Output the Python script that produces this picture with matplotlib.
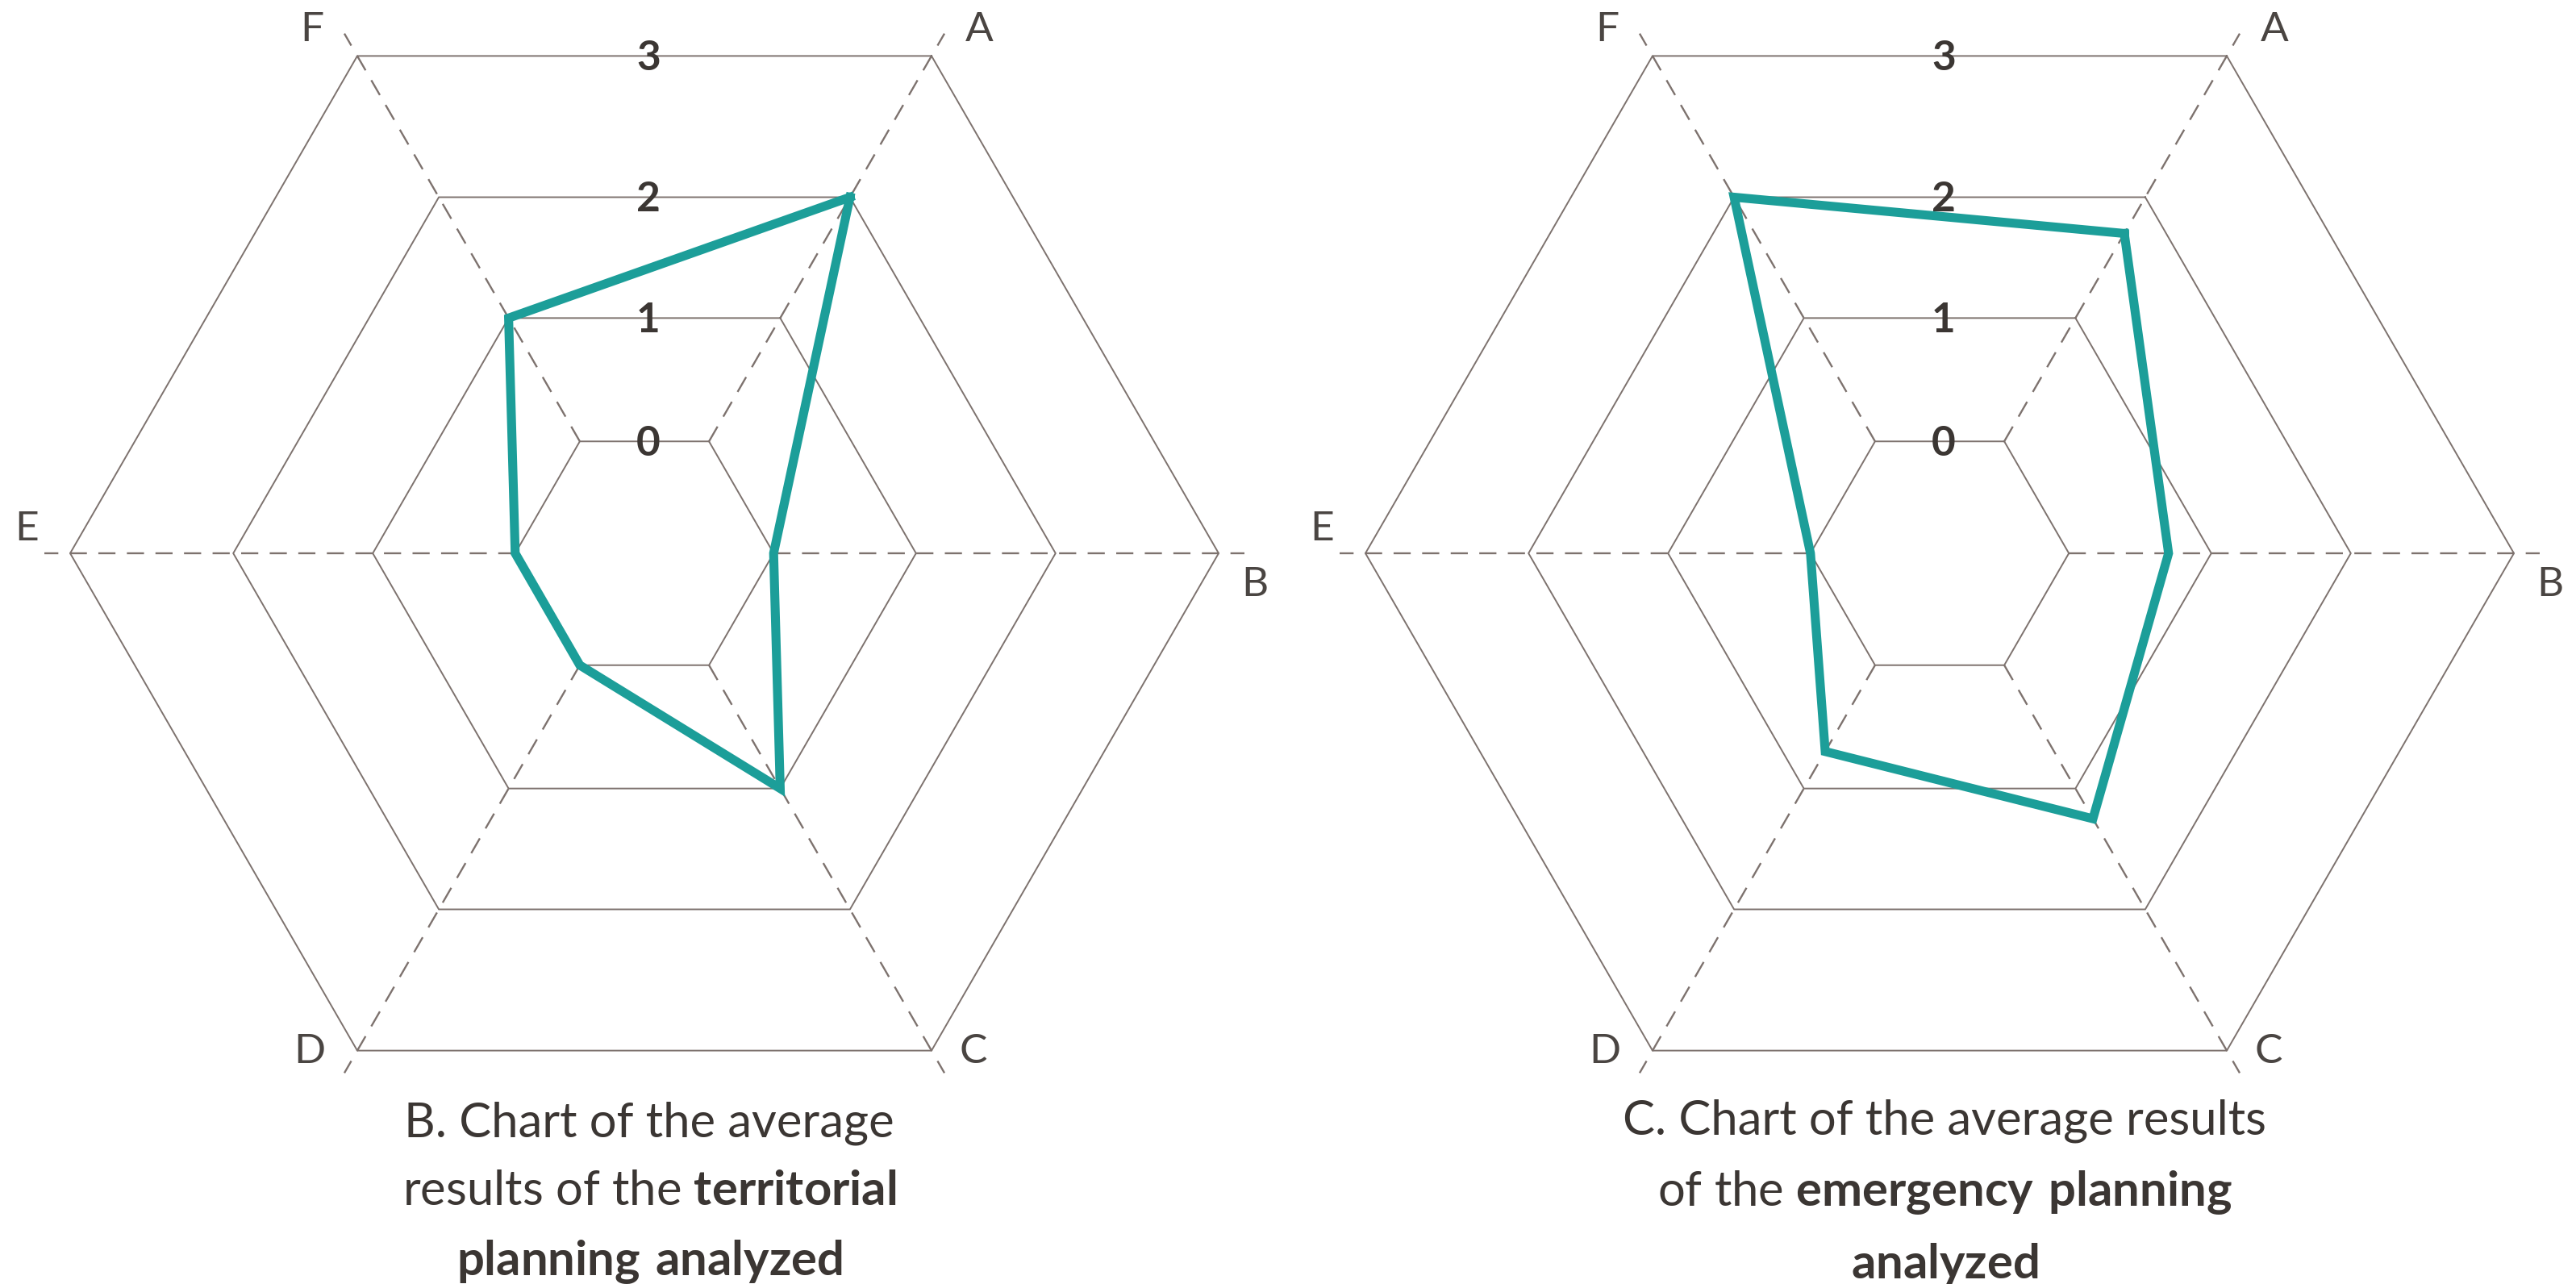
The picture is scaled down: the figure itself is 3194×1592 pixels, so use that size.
import numpy as np
import matplotlib.pyplot as plt

plt.rcParams['font.family'] = ['Lato', 'DejaVu Sans']
plt.rcParams['mathtext.fontset'] = 'custom'
plt.rcParams['mathtext.rm'] = 'Lato'
plt.rcParams['mathtext.bf'] = 'Lato:bold'

# data
categories = ['A', 'B', 'C', 'D', 'E', 'F']
territorial = [2.0, 0.0, 1.0, 0.0, 0.0, 1.0]
emergency = [1.7, 0.7, 1.25, 0.7, 0.0, 2.0]
ring_values = [0, 1, 2, 3]
captions = [
    "B. Chart of the average\nresults of the $\\mathbf{territorial}$\n$\\mathbf{planning\\ analyzed}$",
    "C. Chart of the average results\nof the $\\mathbf{emergency\\ planning}$\n$\\mathbf{analyzed}$",
]

# layout (pixels)
W, H = 3194, 1592
R = 712
ring_frac = [0.225, 0.473, 0.716, 1.0]   # rings are not evenly spaced in the original
centers = [(799, 686), (2405, 686)]
angles = np.deg2rad([60, 0, -60, -120, 180, 120])
label_off = [(0.06, 0.006), (0.018, -0.055), (0.05, 0.037),
             (-0.06, 0.037), (-0.03, 0.042), (-0.056, 0.006)]

grid_col = '#7d726e'
text_col = '#3b3633'
teal = '#1c9e99'

fig = plt.figure(figsize=(W / 100, H / 100), dpi=100)
ax = fig.add_axes([0, 0, 1, 1])
ax.set_xlim(0, W)
ax.set_ylim(H, 0)
ax.set_aspect('equal')
ax.axis('off')


def radius(v):
    return R * np.interp(v, ring_values, ring_frac)


for (cx, cy), vals, cap in zip(centers, [territorial, emergency], captions):
    # hexagon rings
    for v in ring_values:
        r = radius(v)
        xs = cx + r * np.cos(np.append(angles, angles[0]))
        ys = cy - r * np.sin(np.append(angles, angles[0]))
        ax.plot(xs, ys, color=grid_col, lw=1.4, zorder=1)
        ax.text(cx + 5, cy - r * np.sin(np.pi / 3) + 3, str(v), ha='center', va='center',
                fontsize=37, fontweight='bold', color=text_col, zorder=3)
    # dashed spokes
    r0, r1 = radius(0), R * 1.045
    for a in angles:
        ax.plot([cx + r0 * np.cos(a), cx + r1 * np.cos(a)],
                [cy - r0 * np.sin(a), cy - r1 * np.sin(a)],
                color=grid_col, lw=1.7, ls=(0, (9, 6)), zorder=1)
    # category labels
    for name, a, (ox, oy) in zip(categories, angles, label_off):
        lx = cx + R * (1.045 * np.cos(a) + ox)
        ly = cy - R * (1.045 * np.sin(a) + oy)
        ax.text(lx, ly, name, ha='center', va='center', fontsize=37, color='#4a4542')
    # data polygon
    rv = radius(np.array(vals))
    px = cx + rv * np.cos(angles)
    py = cy - rv * np.sin(angles)
    ax.plot(np.append(px, px[0]), np.append(py, py[0]), color=teal, lw=8,
            solid_joinstyle='miter', zorder=2)
    # caption
    ax.text(cx + 6, 1480, cap, ha='center', va='center', fontsize=43,
            color=text_col, linespacing=1.68)

fig.savefig('out.png', dpi=100)
